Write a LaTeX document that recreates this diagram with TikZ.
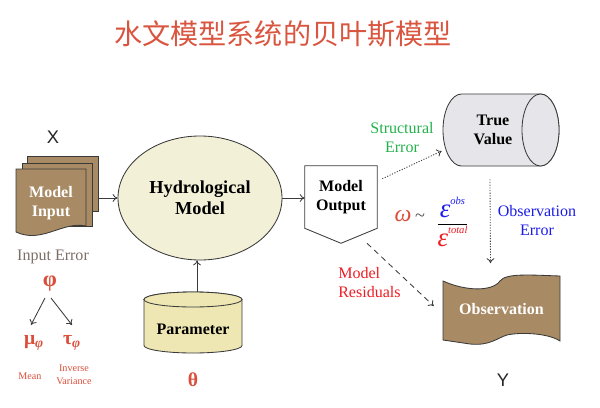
\documentclass[tikz,border=0pt]{standalone}
\usepackage{fontspec}
\setmainfont{Liberation Serif}
\newfontfamily\sansf{Liberation Sans}
\newfontfamily\cjk{Noto Sans CJK SC}
\usetikzlibrary{calc,shapes.geometric,arrows.meta,positioning}

\definecolor{titlered}{HTML}{D9553F}
\definecolor{docbrown}{HTML}{A88B64}
\definecolor{hydfill}{HTML}{F3F0D8}
\definecolor{parfill}{HTML}{EEE7B3}
\definecolor{tvfill}{HTML}{E6E6EA}
\definecolor{greekred}{HTML}{DA4E3A}
\definecolor{errgray}{HTML}{7B6E66}
\definecolor{strgreen}{HTML}{22B14C}
\definecolor{obsblue}{HTML}{1C1CE8}
\definecolor{resred}{HTML}{EE1C24}
\definecolor{edgegray}{HTML}{3A3A3A}
\def\pxu{0.025cm}

\tikzset{
  box/.style={draw=edgegray, line width=0.6pt},
  sheet/.style={box, fill=docbrown},
  lbl/.style={font=\fontsize{11.4}{13.5}\selectfont, align=center, inner sep=0pt},
  blbl/.style={font=\fontsize{11.4}{14}\selectfont\bfseries, align=center, inner sep=0pt},
  greek/.style={font=\fontsize{14}{16}\selectfont\bfseries, text=greekred, inner sep=0pt},
  small/.style={font=\fontsize{7.2}{9}\selectfont, text=greekred, align=center, inner sep=0pt},
  link/.style={-{To[length=3.5pt,width=5.5pt]}, line width=0.6pt, color=edgegray},
  dots/.style={dash pattern=on 0.8pt off 1.1pt},
}

\begin{document}
\begin{tikzpicture}[x=0.025cm, y=-0.025cm]
  \useasboundingbox (0,0) rectangle (600,408);

  % title
  \node[font=\cjk\fontsize{20}{24}\selectfont, text=titlered] (title) at (283,34) {水文模型系统的贝叶斯模型};

  % model input
  \node[font=\sansf\fontsize{13}{15}\selectfont, text=black!85] (xlab) at (53,137) {X};
  \node[sheet, minimum width=71*\pxu, minimum height=55*\pxu] (sheetC) at (62.5,183.5) {};
  \node[sheet, minimum width=70*\pxu, minimum height=63*\pxu] (sheetB) at (57,194.5) {};
  \draw[sheet] (16,169) -- (86,169) -- (86,226) .. controls (62,221) and (42,244) .. (16,232) -- cycle;
  \node[blbl, text=white] (inp) at (51,203) {Model\\Input};
  \node[lbl, text=errgray] (inerr) at (53,257) {Input Error};

  \node[greek, font=\fontsize{16}{18}\selectfont\bfseries] (phi) at (50,284) {φ};
  \node[greek] (mu) at (34,343) {μ\textsubscript{\textit{φ}}};
  \node[greek] (tau) at (72,343) {τ\textsubscript{\textit{φ}}};
  \node[small] (mean) at (30,376) {Mean};
  \node[small] (invvar) at (74,375) {Inverse\\Variance};
  \draw[link] ($(phi)+(-5,14)$) -- ($(mu)+(-3,-18)$);
  \draw[link] ($(phi)+(1,14)$) -- ($(tau)+(0,-18)$);

  % model and parameter
  \node[ellipse, box, fill=hydfill, minimum width=164*\pxu, minimum height=124*\pxu,
        font=\fontsize{13}{15}\selectfont\bfseries, align=center] (hyd) at (200,198) {Hydrological\\Model};
  \draw[box, fill=parfill] (144,299.5) -- (144,345.5)
    arc[start angle=180, end angle=360, x radius=1.225cm, y radius=0.1875cm] -- (242,299.5)
    arc[start angle=0, end angle=180, x radius=1.225cm, y radius=0.1875cm] -- cycle;
  \draw[box, fill=parfill] (193,299.5) ellipse[x radius=1.225cm, y radius=0.1875cm];
  \node[minimum width=98*\pxu, minimum height=61*\pxu, inner sep=0pt] (par) at (193,322.5) {};
  \node[blbl] (parlbl) at ($(par)+(0,7)$) {Parameter};
  \node[greek] (theta) at (193,380) {θ};

  \draw[link] (sheetC.east |- hyd.west) -- (hyd.west);
  \draw[link] ($(par.north)+(4,0)$) coordinate (pt) -- (pt |- hyd.south);

  % output
  \node[blbl, minimum width=72*\pxu, minimum height=62*\pxu] (out) at (341,197) {Model\\Output};
  \draw[box] (out.north west) -- (out.north east) -- (out.south east)
    -- ($(out.south)+(0,15)$) -- (out.south west) -- cycle;
  \draw[link] (hyd.east) -- (out.west |- hyd.east);

  % true value
  \draw[box, fill=tvfill] (540.5,94) -- (461.5,94)
    arc[start angle=90, end angle=270, x radius=0.4625cm, y radius=0.9cm] -- (540.5,166)
    arc[start angle=-90, end angle=90, x radius=0.4625cm, y radius=0.9cm] -- cycle;
  \draw[box, fill=tvfill] (540.5,130) ellipse[x radius=0.4625cm, y radius=0.9cm];
  \node[minimum width=116*\pxu, minimum height=72*\pxu, inner sep=0pt] (tv) at (501,130) {};
  \node[blbl] (tvlbl) at ($(tv)+(-8,0)$) {True\\Value};
  \node[lbl, text=strgreen] (se) at (402,138) {Structural\\Error};
  \draw[link, dots] ($(out.north east)+(5,13)$) -- ($(tv.west)+(-1,21)$);

  % ratio
  \node[font=\itshape\fontsize{17}{18}\selectfont, text=greekred, inner sep=0pt] (omega) at (403,216) {ω};
  \node[font=\fontsize{13}{14}\selectfont, text=black!70, inner sep=0pt] (tilde) at (420,218) {\textasciitilde};
  \node[inner sep=0pt] (ratio) at (452.5,222) {$\displaystyle\frac{\hbox{\color{obsblue}\fontsize{19}{20}\selectfont\itshape ε\raisebox{1.1ex}{\fontsize{7.5}{9}\selectfont obs}}}
    {\hbox{\color{resred}\fontsize{19}{20}\selectfont\itshape ε\raisebox{1.1ex}{\fontsize{7.5}{9}\selectfont total}}}$};

  % observation
  \draw[box, fill=docbrown] (443,281) .. controls (465,291) and (492,292) .. (500,281)
    .. controls (506,273) and (530,275) .. (560,276) -- (560,341)
    .. controls (548,333) and (520,332) .. (507,335)
    .. controls (497,338) and (490,346) .. (470,344) -- (443,340) -- cycle;
  \node[blbl, text=white, minimum width=117*\pxu, minimum height=67*\pxu] (obs) at (501.5,309) {Observation};
  \node[lbl, text=obsblue] (oe) at (537,221) {Observation\\Error};
  \draw[link, dots] ($(tv.south)+(-11,13)$) -- ($(obs.north)+(-11,-12)$);
  \node[lbl, text=resred, align=left, anchor=west] (mr) at (338,282.5) {Model\\Residuals};
  \draw[link, dash pattern=on 4pt off 3pt] ($(out.south)+(26,15)$) -- ($(obs.west)+(-9,-3)$);
  \node[font=\sansf\fontsize{13}{15}\selectfont, text=black!85] (ylab) at (503,380) {Y};
\end{tikzpicture}
\end{document}
